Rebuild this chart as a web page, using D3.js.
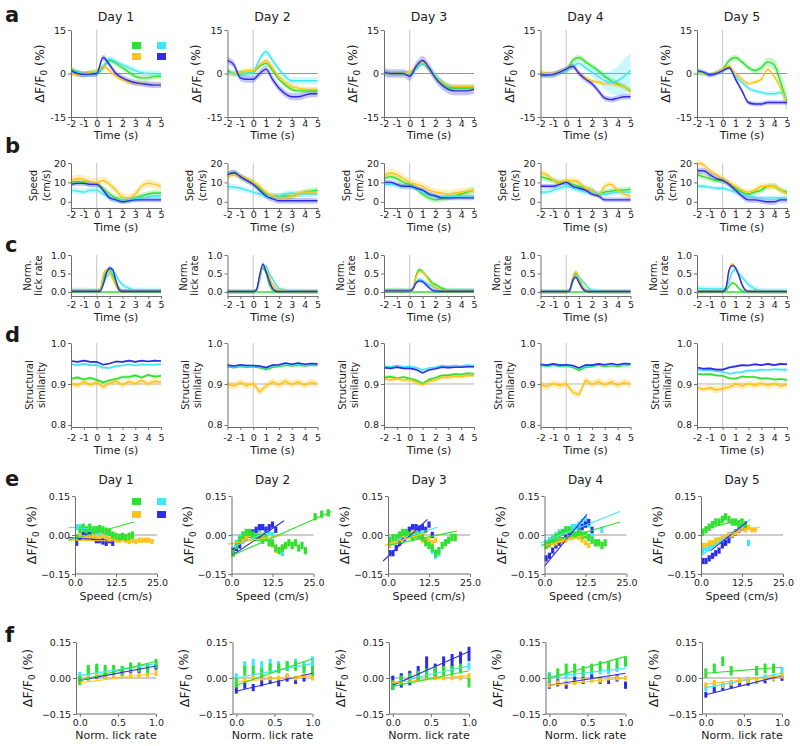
<!DOCTYPE html>
<html lang="en">
<head>
<meta charset="UTF-8">
<title>dF/F0, speed, licking and similarity across days</title>
<script src="https://d3js.org/d3.v7.min.js"></script>
<style>
  body { margin: 0; background: #fff; }
  svg text { font-family: "DejaVu Sans", sans-serif; fill: #1a1a1a; }
</style>
</head>
<body>
<svg></svg>
<script>
const width = 800, height = 746;
const days = ["Day 1", "Day 2", "Day 3", "Day 4", "Day 5"];
const seriesNames = ["green", "cyan", "yellow", "blue"];
const colors = { green: "#2fe02f", cyan: "#3fe6f4", yellow: "#ffc41a", blue: "#2d2de6" };

// time grids (s)
const timeGrid = [-2, -1.5, -1, -0.5, 0, 0.5, 1, 1.5, 2, 2.5, 3, 3.5, 4, 4.5, 5];
const lickTime = [-2, -1, 0, 0.25, 0.5, 0.75, 1, 1.25, 1.5, 1.75, 2, 2.5, 3, 4, 5];

// ---- a: dF/F0 (%) per day ----
const dffGreen = [
  [1.5, 0.5, -0.3, 0, 0, 2, 4.5, 3.5, 2, 0.5, -1, -1.5, -1.5, -1, -1],
  [1, 0, 0, 0, 0.5, 2.5, 3.5, 1, -2, -4, -5.5, -6, -6, -6, -6],
  [0.5, 0, 0, 0, 0, 2, 3.5, 1.5, -1.5, -3.5, -5, -5, -5, -5, -5],
  [0, -0.5, -0.5, 0.5, 1, 4.5, 5.5, 4, 2.5, 1, -1, -2.5, -3.5, -4.5, -6],
  [0.5, 0, -0.5, 0.3, 1.5, 4.5, 5.5, 4, 2, 1, 2, 4, 3, -3, -10]
];
const dffCyan = [
  [0.5, 0.3, -0.2, 0, 0.3, 2.5, 5, 4, 3, 2, 1, 0.3, 0, 0, -0.3],
  [0.5, 0, 0, 0, 0.5, 5, 7.5, 4.5, 1.5, -1, -2.5, -2.5, -2.5, -2.5, -2.5],
  [0.5, 0, 0, 0, 0, 1.5, 3.5, 2, -0.5, -2.5, -4, -4.5, -4.5, -4.5, -4.5],
  [-0.5, -0.5, -0.3, 0.5, 1, 2.5, 3.5, 2, 0.5, -1, -2.5, -3, -2.5, -1, 1],
  [0, 0, -0.5, 0, 1, 2.5, -1, -3, -5, -6, -6.5, -7, -7, -6.5, -9]
];
const dffYellow = [
  [0, -0.5, -0.5, 0.5, 0.8, 2.5, 1, -1, -2, -3, -3.2, -3.5, -3.5, -3.5, -3.5],
  [0, 0, 0.5, 1, 1, 3, 4.5, 2, -1, -3, -4.5, -5, -5.5, -5.5, -5.5],
  [0.5, 0, 0, 0, 0.5, 2.5, 4, 2, -1, -3, -4, -4.5, -4.5, -4.5, -4.5],
  [0.5, 0, 0, 0.5, 1.5, 2.5, 0, -1.5, -2.5, -3, -3.5, -3.5, -4, -4.5, -6.5],
  [0, 0, -0.5, 0.3, 1.5, 2.5, 0, -2, -3.5, -3, -2, 1.5, -1, -5, -10.5]
];
const dffBlue = [
  [1, 0, -0.3, -0.2, 0, 5.5, 3, 0, -1.5, -2.5, -3.2, -3.5, -3.8, -4, -4],
  [4.5, 3, -1.5, -2, -2, 0, 1.5, -2, -5, -7, -8, -8, -7.5, -7, -7],
  [0.5, 0, 0, 0, -1, 2.5, 4.5, 2, -1.5, -4, -5.5, -6, -6, -6, -5.5],
  [-0.5, -0.5, -0.3, 0.5, 1.5, 2.5, 0, -2, -3.5, -6, -8.5, -9, -8.5, -8, -8],
  [1, 0.5, -0.5, 0, 1, 2, -2, -6, -10, -10.5, -10.5, -10, -10, -10, -10]
];
const dffSem = [
  [1, 1, 0.8, 1],
  [0.8, 1.2, 1, 1.2],
  [0.8, 0.8, 0.8, 1.5],
  [1, [0.5, 0.5, 0.5, 0.5, 0.8, 1, 1, 1, 1.5, 2, 3, 4, 5, 6, 6], 0.8, 1],
  [[0.5, 0.5, 0.5, 0.5, 0.8, 1, 1, 1, 1, 1, 1.2, 1.5, 2, 3, 3.5], 0.8, 0.8, 0.8]
];

// ---- b: speed (cm/s) ----
const spdGreen = [
  [10, 10.5, 10, 9, 9, 7, 4, 2, 1, 1, 2, 3, 4, 4.5, 4.5],
  [14, 15, 13, 11, 10, 7, 4, 3, 3, 3, 3, 4, 5, 5.5, 6],
  [12, 13, 12, 10, 9, 7, 4, 2, 1, 1.5, 2, 3, 4, 5, 6],
  [13, 12, 11, 10, 10, 9, 8, 7, 6, 4, 5, 5.5, 6, 6, 6.5],
  [14, 13, 12, 11, 11, 9, 7, 5, 4, 5, 6, 8, 8, 6, 5]
];
const spdCyan = [
  [6, 5.5, 5, 6, 6, 4, 2, 1, 1, 1, 1.5, 2, 2.5, 3, 3],
  [8, 7.5, 7, 6, 5, 4, 3, 3, 3, 4, 4.5, 4, 4, 4, 4],
  [9, 9, 8.5, 8, 8, 7, 5, 4, 3, 2.5, 2.5, 3, 3, 3, 3],
  [5, 5, 6, 7, 8, 7, 6, 5, 5, 4, 4, 4.5, 5, 5, 5],
  [8, 8, 7.5, 7, 7, 6, 5, 4, 3, 2.5, 2, 2, 2, 2, 2]
];
const spdYellow = [
  [11, 12, 11.5, 10.5, 10, 11, 9, 6, 2.5, 2, 4, 8, 9.5, 9, 8],
  [13, 14, 13, 12, 10, 8, 5, 3, 2, 2, 3, 4, 5, 5, 5],
  [13, 15, 14, 12, 10, 9, 8, 6, 5, 4.5, 4, 4.5, 5, 5.5, 6],
  [15, 14, 11, 10, 11, 11, 10, 7, 6, 3, 8, 9, 6, 4, 3],
  [20, 19, 16, 14, 12, 10, 8, 6, 5, 6, 8, 8, 8, 6, 4]
];
const spdBlue = [
  [9, 9.5, 9.5, 9, 9, 6, 2, 1, 0, 0.5, 1, 1, 1, 1, 1],
  [14, 15, 13, 11, 9, 6, 3, 1.5, 0.5, 0.5, 0.5, 0.5, 0.5, 0.5, 0.5],
  [10, 10, 9, 8, 8, 7, 6, 4, 3, 2, 2, 2, 2, 2, 2],
  [8, 8, 8, 9, 10, 8, 7, 6, 4, 3, 1, 1, 1, 1, 1],
  [16, 16, 14, 12, 11, 9, 6, 3, 1, 1, 0.5, 0, 0, 1, 1]
];
const spdSem = [
  [1.5, 1.5, 2, 1.2], [1.5, 1.5, 1.5, 1.5], [1.5, 1.5, 2, 1.2], [1.5, 1.5, 1.5, 1.2], [1.5, 1.2, 1.5, 1.5]
];

// ---- c: normalised lick rate ----
const lickGreen = [
  [0.02, 0.02, 0.02, 0.05, 0.35, 0.55, 0.6, 0.45, 0.25, 0.1, 0.02, 0.02, 0.02, 0.02, 0.02],
  [0.01, 0.01, 0.01, 0.05, 0.4, 0.65, 0.5, 0.2, 0.05, 0.02, 0.01, 0.01, 0.01, 0.01, 0.01],
  [0.04, 0.05, 0.04, 0.1, 0.45, 0.6, 0.55, 0.45, 0.35, 0.25, 0.2, 0.1, 0.05, 0.04, 0.04],
  [0.01, 0.01, 0.01, 0.05, 0.35, 0.5, 0.35, 0.15, 0.05, 0.02, 0.01, 0.01, 0.01, 0.01, 0.01],
  [0.01, 0.01, 0.01, 0.03, 0.15, 0.25, 0.2, 0.1, 0.03, 0.01, 0.01, 0.01, 0.01, 0.01, 0.01]
];
const lickCyan = [
  [0.05, 0.05, 0.03, 0.03, 0.2, 0.4, 0.5, 0.55, 0.45, 0.3, 0.2, 0.1, 0.05, 0.05, 0.05],
  [0.02, 0.02, 0.02, 0.03, 0.3, 0.7, 0.7, 0.5, 0.35, 0.2, 0.1, 0.05, 0.03, 0.02, 0.02],
  [0.05, 0.05, 0.05, 0.1, 0.25, 0.35, 0.3, 0.25, 0.2, 0.15, 0.1, 0.05, 0.05, 0.05, 0.05],
  [0.02, 0.02, 0.02, 0.03, 0.25, 0.45, 0.4, 0.3, 0.2, 0.1, 0.05, 0.03, 0.02, 0.02, 0.02],
  [0.1, 0.08, 0.08, 0.1, 0.3, 0.55, 0.6, 0.5, 0.4, 0.3, 0.2, 0.08, 0.03, 0.02, 0.02]
];
const lickYellow = [
  [0.02, 0.03, 0.02, 0.05, 0.45, 0.6, 0.5, 0.35, 0.15, 0.05, 0.02, 0.02, 0.02, 0.02, 0.02],
  [0.01, 0.01, 0.01, 0.05, 0.4, 0.7, 0.6, 0.4, 0.2, 0.1, 0.05, 0.02, 0.01, 0.01, 0.01],
  [0.03, 0.04, 0.03, 0.1, 0.4, 0.55, 0.55, 0.45, 0.3, 0.2, 0.12, 0.05, 0.03, 0.03, 0.03],
  [0.01, 0.01, 0.01, 0.05, 0.4, 0.55, 0.4, 0.2, 0.05, 0.02, 0.01, 0.01, 0.01, 0.01, 0.01],
  [0.01, 0.01, 0.01, 0.1, 0.55, 0.75, 0.65, 0.45, 0.2, 0.05, 0.01, 0.01, 0.01, 0.01, 0.01]
];
const lickBlue = [
  [0.02, 0.02, 0.02, 0.02, 0.2, 0.5, 0.65, 0.6, 0.3, 0.05, 0.02, 0.02, 0.02, 0.02, 0.02],
  [0.01, 0.01, 0.01, 0.05, 0.45, 0.75, 0.55, 0.3, 0.1, 0.02, 0.01, 0.01, 0.01, 0.01, 0.01],
  [0.03, 0.03, 0.03, 0.08, 0.25, 0.3, 0.28, 0.2, 0.12, 0.05, 0.03, 0.02, 0.02, 0.02, 0.02],
  [0.01, 0.01, 0.01, 0.03, 0.3, 0.4, 0.25, 0.1, 0.03, 0.01, 0.01, 0.01, 0.01, 0.01, 0.01],
  [0.01, 0.01, 0.01, 0.1, 0.6, 0.72, 0.65, 0.45, 0.2, 0.05, 0.01, 0.01, 0.01, 0.01, 0.01]
];
const lickSem = [
  [0.06, 0.07, 0.06, 0.05], [0.05, 0.06, 0.06, 0.05], [0.06, 0.05, 0.05, 0.05], [0.05, 0.06, 0.05, 0.05], [0.04, 0.08, 0.05, 0.05]
];

// ---- d: structural similarity ----
const ssimGreen = [
  [0.912, 0.916, 0.911, 0.915, 0.910, 0.904, 0.909, 0.912, 0.917, 0.917, 0.921, 0.916, 0.922, 0.918, 0.920],
  [0.942, 0.940, 0.943, 0.941, 0.942, 0.940, 0.935, 0.941, 0.943, 0.946, 0.944, 0.946, 0.944, 0.946, 0.945],
  [0.916, 0.918, 0.914, 0.917, 0.913, 0.909, 0.901, 0.911, 0.915, 0.921, 0.921, 0.924, 0.923, 0.926, 0.925],
  [0.945, 0.943, 0.946, 0.943, 0.944, 0.941, 0.933, 0.941, 0.942, 0.946, 0.943, 0.945, 0.943, 0.946, 0.945],
  [0.925, 0.923, 0.924, 0.921, 0.920, 0.914, 0.913, 0.918, 0.917, 0.917, 0.913, 0.914, 0.911, 0.912, 0.910]
];
const ssimCyan = [
  [0.948, 0.946, 0.949, 0.946, 0.946, 0.940, 0.939, 0.944, 0.945, 0.948, 0.945, 0.948, 0.947, 0.947, 0.948],
  [0.944, 0.942, 0.945, 0.943, 0.944, 0.943, 0.938, 0.944, 0.945, 0.948, 0.946, 0.948, 0.946, 0.948, 0.947],
  [0.944, 0.942, 0.945, 0.942, 0.943, 0.940, 0.934, 0.939, 0.941, 0.945, 0.943, 0.945, 0.944, 0.946, 0.945],
  [0.946, 0.944, 0.947, 0.944, 0.945, 0.943, 0.938, 0.944, 0.944, 0.947, 0.945, 0.947, 0.946, 0.947, 0.946],
  [0.935, 0.933, 0.934, 0.931, 0.930, 0.925, 0.928, 0.929, 0.933, 0.932, 0.935, 0.934, 0.936, 0.935, 0.935]
];
const ssimYellow = [
  [0.902, 0.896, 0.906, 0.898, 0.904, 0.893, 0.902, 0.907, 0.898, 0.906, 0.901, 0.909, 0.900, 0.907, 0.904],
  [0.900, 0.895, 0.904, 0.896, 0.901, 0.881, 0.895, 0.905, 0.898, 0.907, 0.899, 0.905, 0.897, 0.904, 0.900],
  [0.913, 0.910, 0.913, 0.909, 0.911, 0.904, 0.898, 0.906, 0.910, 0.916, 0.916, 0.919, 0.918, 0.921, 0.920],
  [0.898, 0.894, 0.901, 0.896, 0.901, 0.880, 0.874, 0.909, 0.899, 0.906, 0.898, 0.905, 0.897, 0.904, 0.899],
  [0.891, 0.887, 0.891, 0.885, 0.889, 0.892, 0.900, 0.895, 0.901, 0.896, 0.902, 0.896, 0.901, 0.895, 0.899]
];
const ssimBlue = [
  [0.956, 0.954, 0.957, 0.954, 0.954, 0.947, 0.950, 0.955, 0.954, 0.957, 0.954, 0.957, 0.955, 0.957, 0.956],
  [0.946, 0.944, 0.947, 0.945, 0.945, 0.944, 0.940, 0.946, 0.947, 0.951, 0.948, 0.951, 0.948, 0.950, 0.949],
  [0.940, 0.938, 0.941, 0.938, 0.938, 0.935, 0.927, 0.934, 0.937, 0.941, 0.940, 0.941, 0.941, 0.942, 0.942],
  [0.948, 0.946, 0.949, 0.946, 0.947, 0.945, 0.939, 0.946, 0.946, 0.949, 0.947, 0.950, 0.947, 0.950, 0.949],
  [0.940, 0.937, 0.938, 0.935, 0.935, 0.940, 0.943, 0.946, 0.945, 0.948, 0.946, 0.949, 0.946, 0.949, 0.948]
];
const ssimSem = [
  [0.004, 0.003, 0.008, 0.002], [0.002, 0.002, 0.009, 0.002], [0.003, 0.002, 0.005, 0.002], [0.002, 0.002, 0.009, 0.002], [0.003, 0.003, 0.008, 0.003]
];

// ---- e: dF/F0 vs speed, bins of 1 cm/s (bin i centred on i + 0.5) ----
const eGreen = [
  [-0.01, 0.02, 0.03, 0.02, 0.03, 0.02, 0.02, 0.025, 0.02, 0.015, 0.01, 0.0, -0.005, -0.01, -0.005, -0.01, -0.005, 0.0],
  [-0.07, -0.04, -0.02, 0.0, 0.01, 0.01, 0.0, -0.01, -0.01, -0.02, -0.01, -0.03, -0.03, -0.05, -0.06, -0.05, -0.04, -0.03, -0.04, -0.03, -0.05, -0.04, -0.06, null, null, 0.07, null, 0.08, null, 0.085],
  [-0.02, -0.01, -0.01, 0.0, 0.01, 0.01, 0.0, -0.01, 0.0, 0.0, -0.01, -0.03, -0.04, -0.05, -0.07, -0.06, -0.04, -0.03, -0.02, -0.01, -0.01],
  [-0.04, -0.03, -0.02, -0.01, 0.0, 0.01, 0.02, 0.02, 0.01, 0.0, 0.01, 0.0, 0.0, -0.01, -0.02, -0.03, -0.03, -0.04, -0.03],
  [0.01, 0.02, 0.03, 0.04, 0.05, 0.05, 0.06, 0.07, 0.06, 0.05, 0.05, 0.04, 0.05, 0.04]
];
const eCyan = [
  [0.03, 0.03, 0.02, 0.02, 0.01, 0.01, 0.015, 0.01, 0.0, 0.0],
  [null, -0.03, -0.01, 0.0, 0.01, 0.01, 0.0, 0.01, 0.02, 0.03, 0.02, 0.01, 0.0, null, null, -0.07],
  [null, null, null, 0.0, 0.01, 0.01, 0.02, 0.02, 0.03, 0.02, 0.0, -0.02, -0.04, -0.06, -0.08, -0.07],
  [-0.03, -0.02, -0.01, 0.0, 0.01, 0.01, 0.02, 0.02, 0.03, 0.03, 0.04, 0.05, 0.06, 0.04, 0.0, null, null, 0.02],
  [-0.06, -0.05, -0.05, -0.04, -0.03, -0.02, -0.02, -0.01, 0.0, 0.0, 0.01, 0.02, 0.03, 0.04, -0.03]
];
const eYellow = [
  [null, -0.005, -0.01, -0.01, -0.01, -0.005, -0.01, -0.01, 0.0, -0.01, -0.015, -0.01, -0.02, -0.02, -0.015, -0.02, -0.025, -0.02, -0.025, -0.02, -0.02, -0.02, -0.02, -0.025],
  [null, null, -0.02, -0.02, -0.01, 0.0, -0.01, -0.01, 0.0, 0.0, -0.01, -0.03, -0.04, -0.06, -0.06, -0.05, -0.04],
  [-0.04, -0.03, -0.02, -0.01, 0.0, 0.0, 0.0, 0.01, 0.0, -0.01, -0.02, -0.02, -0.02, -0.03, -0.02],
  [null, -0.04, -0.03, -0.03, -0.02, -0.02, -0.02, -0.01, -0.01, 0.0, -0.01, -0.02, -0.03, -0.04],
  [-0.04, -0.04, -0.03, -0.03, -0.02, -0.02, -0.01, -0.01, 0.0, 0.0, 0.01, 0.02, 0.03, 0.02, 0.03, 0.02, 0.02]
];
const eBlue = [
  [-0.03, -0.01, 0.0, 0.01, 0.0, -0.01, -0.02, -0.02, -0.025, -0.03, -0.02, -0.03],
  [-0.06, -0.05, -0.04, -0.02, -0.01, 0.0, 0.01, 0.02, 0.03, 0.03, 0.02, 0.03, 0.04, 0.02],
  [-0.07, -0.07, -0.05, -0.03, -0.01, 0.0, 0.02, 0.03, 0.03, 0.025, 0.03, 0.02, 0.04, 0.0],
  [-0.09, -0.08, -0.06, -0.04, -0.03, -0.02, -0.01, 0.0, 0.01, 0.0, 0.02, 0.03, 0.04, 0.05, 0.02],
  [-0.1, -0.1, -0.09, -0.08, -0.07, -0.06, -0.04, -0.03, -0.02, 0.0, 0.01, 0.02, 0.03]
];
const eErr = [0.014, 0.012, 0.01, 0.012];
// regression lines: [speed0, dff0, speed1, dff1]
const eLineGreen = [[-2, -0.02, 18, 0.05], [0, -0.08, 30.5, 0.09], [0, -0.04, 21, 0.015], [-1, -0.04, 23, 0.05], [0, 0.02, 13, 0.06]];
const eLineCyan = [[-2, 0.03, 4, 0.025], [0, -0.05, 12, 0.02], [2, -0.02, 15, 0.03], [-1, -0.03, 23, 0.09], [0, -0.08, 15, 0.06]];
const eLineYellow = [[-2, -0.02, 24, -0.025], [-1, -0.035, 16, 0.0], [-1, -0.04, 12, 0.01], [0, -0.04, 13, 0.0], [7, 0.0, 18, 0.03]];
const eLineBlue = [[-2, -0.01, 10, -0.02], [0, -0.08, 16, 0.055], [-1.5, -0.1, 12, 0.06], [0, -0.12, 13, 0.08], [3, -0.06, 14, 0.05]];

// ---- f: dF/F0 vs normalised lick rate ----
const lickBins = [0, 0.111, 0.222, 0.333, 0.444, 0.556, 0.667, 0.778, 0.889, 1.0];
const fGreen = [
  [-0.01, 0.035, 0.04, 0.035, 0.035, 0.03, 0.045, 0.045, 0.04, 0.06],
  [-0.02, 0.03, 0.03, 0.02, 0.04, 0.04, 0.05, 0.05, 0.04, 0.03],
  [-0.03, -0.01, 0.0, 0.01, 0.02, 0.03, 0.03, 0.03, 0.04, -0.02],
  [0.0, 0.02, 0.04, 0.04, 0.03, 0.04, 0.05, 0.05, 0.06, 0.07],
  [0.02, 0.04, 0.07, 0.03, null, null, 0.03, 0.04, 0.04, null]
];
const fCyan = [
  [0.01, 0.03, 0.035, 0.03, 0.03, 0.035, 0.04, 0.04, 0.045, 0.05],
  [0.0, 0.05, 0.06, 0.05, 0.06, 0.05, 0.05, 0.06, 0.05, 0.07],
  [-0.01, 0.0, 0.01, 0.02, 0.02, 0.03, 0.03, 0.04, 0.04, 0.05],
  [0.01, 0.01, 0.01, 0.01, 0.02, 0.02, 0.03, 0.03, 0.04, 0.06],
  [-0.04, -0.04, -0.03, -0.03, -0.02, -0.01, -0.01, 0.0, 0.0, 0.03]
];
const fYellow = [
  [-0.015, 0.0, 0.01, 0.005, 0.01, 0.015, 0.01, 0.01, 0.015, 0.02],
  [-0.02, -0.01, 0.0, 0.0, 0.0, 0.0, 0.01, 0.0, 0.01, 0.0],
  [-0.02, -0.01, -0.01, 0.0, 0.0, 0.0, 0.0, 0.0, 0.0, 0.01],
  [-0.03, -0.02, -0.02, -0.02, -0.01, -0.01, -0.01, 0.0, 0.0, 0.0],
  [-0.03, -0.02, -0.03, -0.02, -0.01, -0.01, -0.01, 0.0, 0.0, 0.01]
];
const fBlue = [
  [-0.01, 0.0, 0.005, 0.01, 0.01, 0.02, 0.025, 0.03, 0.04, 0.045],
  [-0.05, -0.03, -0.04, -0.02, -0.01, -0.02, 0.0, -0.01, 0.0, 0.02],
  [-0.02, -0.01, 0.0, 0.02, 0.06, 0.03, 0.06, 0.07, 0.08, 0.1],
  [-0.03, -0.02, -0.03, -0.01, -0.01, 0.0, -0.01, -0.01, 0.0, -0.03],
  [-0.07, -0.05, -0.04, -0.03, -0.02, -0.02, -0.01, -0.01, 0.0, 0.0]
];
const fErr = [
  [0.02, 0.015, 0.012, 0.01], [0.02, 0.02, 0.01, 0.015], [0.02, 0.015, 0.01, 0.03], [0.02, 0.015, 0.01, 0.015], [0.02, 0.015, 0.012, 0.012]
];
// regression lines: [dff at rate 0, dff at rate 1]
const fLineGreen = [[-0.01, 0.07], [-0.03, 0.08], [-0.035, 0.03], [0.0, 0.09], [0.02, 0.045]];
const fLineCyan = [[0.01, 0.06], [0.0, 0.06], [-0.02, 0.05], [0.005, 0.04], [-0.04, 0.02]];
const fLineYellow = [[-0.02, 0.02], [-0.015, 0.01], [-0.02, 0.01], [-0.03, 0.0], [-0.025, 0.01]];
const fLineBlue = [[-0.01, 0.05], [-0.055, 0.02], [-0.03, 0.11], [-0.03, 0.02], [-0.07, 0.01]];

// ---------------- layout ----------------
const svg = d3.select("svg").attr("width", width).attr("height", height);
const colLeft = [71, 227.5, 384, 540.5, 697];
const plotW = 90;
const font = "DejaVu Sans, sans-serif";

function styleAxis(sel) {
  sel.select(".domain").attr("stroke", "#6e6e6e").attr("stroke-width", 1);
  sel.selectAll(".tick line").attr("stroke", "#6e6e6e");
  sel.selectAll("text").attr("font-size", 9.5).attr("font-family", font).attr("fill", "#111");
}

function dffLabel(x, y, size) {
  const t = svg.append("text")
    .attr("transform", `translate(${x},${y}) rotate(-90)`)
    .attr("text-anchor", "middle").attr("dy", "0.35em")
    .attr("font-size", size);
  t.append("tspan").text("ΔF/F");
  t.append("tspan").attr("font-size", size * 0.7).attr("dy", "0.3em").text("0");
  t.append("tspan").attr("dy", "-0.25em").text(" (%)");
}

function stackLabel(lines, x, y, size, gap) {
  lines.forEach((line, i) => {
    svg.append("text")
      .attr("transform", `translate(${x + i * gap},${y}) rotate(-90)`)
      .attr("text-anchor", "middle").attr("dy", "0.35em")
      .attr("font-size", size).text(line);
  });
}

const semAt = (s, i) => Array.isArray(s) ? s[i] : s;

const timeRows = [
  { top: 30, axisY: 117, domain: [-15, 15], ticks: [-15, 0, 15], fmt: d => String(d), xPad: 0,
    t: timeGrid, sets: [dffGreen, dffCyan, dffYellow, dffBlue], sem: dffSem,
    ref: { v: 0, color: colors.green, w: 1.2 }, curve: d3.curveMonotoneX, timeY: 139, lw: 1.4,
    label: { type: "dff", dx: -31 } },
  { top: 163, axisY: 208, domain: [-3.2, 20], ticks: [0, 10, 20], fmt: d => String(d), xPad: 0,
    t: timeGrid, sets: [spdGreen, spdCyan, spdYellow, spdBlue], sem: spdSem,
    ref: null, curve: d3.curveMonotoneX, timeY: 231, lw: 1.4,
    label: { type: "stack", lines: ["Speed", "(cm/s)"], dx: -38, gap: 13 } },
  { top: 255, axisY: 296, domain: [-0.11, 1], ticks: [0, 0.5, 1], fmt: d3.format(".1f"), xPad: 2,
    t: lickTime, sets: [lickGreen, lickCyan, lickYellow, lickBlue], sem: lickSem,
    ref: { v: 0, color: colors.green, w: 1.5 }, curve: d3.curveMonotoneX, timeY: 321, lw: 1.4,
    label: { type: "stack", lines: ["Norm.", "lick rate"], dx: -44, gap: 11 } },
  { top: 343, axisY: 427, domain: [0.795, 1.0], ticks: [0.8, 0.9, 1.0], fmt: d3.format(".1f"), xPad: 4,
    t: timeGrid, sets: [ssimGreen, ssimCyan, ssimYellow, ssimBlue], sem: ssimSem,
    ref: { v: 0.9, color: "#b5b5b5", w: 1 }, curve: d3.curveLinear, timeY: 454, lw: 1.6,
    label: { type: "stack", lines: ["Structural", "similarity"], dx: -42, gap: 12 } }
];

timeRows.forEach(row => {
  days.forEach((day, di) => {
    const left = colLeft[di];
    const x = d3.scaleLinear().domain([-2, 5]).range([left, left + plotW]);
    const y = d3.scaleLinear().domain(row.domain).range([row.axisY, row.top]);
    const g = svg.append("g");

    g.append("line")
      .attr("x1", x(0)).attr("x2", x(0)).attr("y1", row.top).attr("y2", row.axisY)
      .attr("stroke", "#bdbdbd").attr("stroke-width", 0.9);
    if (row.ref) {
      g.append("line")
        .attr("x1", x(-2)).attr("x2", x(5)).attr("y1", y(row.ref.v)).attr("y2", y(row.ref.v))
        .attr("stroke", row.ref.color).attr("stroke-width", row.ref.w);
    }

    const pts = row.sets.map((set, si) => row.t.map((t, i) => ({
      t, v: set[di][i], s: semAt(row.sem[di][si], i)
    })));

    const area = d3.area().curve(row.curve)
      .x(d => x(d.t)).y0(d => y(d.v - d.s)).y1(d => y(d.v + d.s));
    const line = d3.line().curve(row.curve).x(d => x(d.t)).y(d => y(d.v));

    g.selectAll(".band").data(pts).join("path")
      .attr("class", "band")
      .attr("d", area)
      .attr("fill", (d, i) => colors[seriesNames[i]])
      .attr("fill-opacity", 0.28);
    g.selectAll(".trace").data(pts).join("path")
      .attr("class", "trace")
      .attr("d", line)
      .attr("fill", "none")
      .attr("stroke", (d, i) => colors[seriesNames[i]])
      .attr("stroke-width", row.lw);

    g.append("g").attr("transform", `translate(0,${row.axisY})`)
      .call(d3.axisBottom(x).tickValues(d3.range(-2, 6)).tickFormat(d => String(d))
        .tickSize(3).tickPadding(row.xPad).tickSizeOuter(0))
      .call(styleAxis);
    g.append("g").attr("transform", `translate(${left},0)`)
      .call(d3.axisLeft(y).tickValues(row.ticks).tickFormat(row.fmt)
        .tickSize(3).tickPadding(2).tickSizeOuter(0))
      .call(styleAxis);

    svg.append("text")
      .attr("x", left + plotW / 2).attr("y", row.timeY)
      .attr("text-anchor", "middle").attr("font-size", 11).text("Time (s)");

    const cy = (row.top + row.axisY) / 2;
    if (row.label.type === "dff") dffLabel(left + row.label.dx, cy, 12.5);
    else stackLabel(row.label.lines, left + row.label.dx, cy, 10, row.label.gap);
  });
});

// day titles row a
days.forEach((day, di) => {
  svg.append("text").attr("x", colLeft[di] + plotW / 2).attr("y", 21)
    .attr("text-anchor", "middle").attr("font-size", 12.5).text(day);
});

// ---------------- e and f ----------------
const scatterRows = [
  { top: 496, bottom: 574, dx: 4, w: 82, xDomain: [0, 25], xTicks: [0, 12.5, 25], xPad: 2,
    data: [eGreen, eCyan, eYellow, eBlue], err: d => eErr,
    xOf: i => i + 0.5, barW: 3.2,
    lines: [eLineGreen, eLineCyan, eLineYellow, eLineBlue], lineKind: "e",
    xTitle: "Speed (cm/s)", xTitleY: 600, labelX: -43, title: true },
  { top: 642, bottom: 714, dx: 5, w: 80, xDomain: [-0.05, 1], xTicks: [0, 0.5, 1], xPad: 2,
    data: [fGreen, fCyan, fYellow, fBlue], err: di => fErr[di],
    xOf: i => lickBins[i], barW: 3,
    lines: [fLineGreen, fLineCyan, fLineYellow, fLineBlue], lineKind: "f",
    xTitle: "Norm. lick rate", xTitleY: 739, labelX: -48, title: false }
];
const drawOrder = [1, 3, 2, 0]; // cyan, blue, yellow, green on top

scatterRows.forEach(row => {
  days.forEach((day, di) => {
    const left = colLeft[di] + row.dx;
    const x = d3.scaleLinear().domain(row.xDomain).range([left, left + row.w]);
    const y = d3.scaleLinear().domain([-0.15, 0.15]).range([row.bottom, row.top]);
    const g = svg.append("g");

    g.append("line")
      .attr("x1", left).attr("x2", x(row.xTicks[2])).attr("y1", y(0)).attr("y2", y(0))
      .attr("stroke", "#9a9a9a").attr("stroke-width", 1);

    const errs = row.err(di);
    drawOrder.forEach(si => {
      const vals = row.data[si][di];
      const pts = vals.map((v, i) => ({ x: row.xOf(i), v })).filter(d => d.v !== null);
      const e = errs[si];
      g.selectAll(null).data(pts).join("rect")
        .attr("x", d => x(d.x) - row.barW / 2)
        .attr("width", row.barW)
        .attr("y", d => y(d.v + e))
        .attr("height", d => y(d.v - e) - y(d.v + e))
        .attr("fill", colors[seriesNames[si]]);
    });
    drawOrder.forEach(si => {
      const L = row.lines[si][di];
      if (!L) return;
      const seg = row.lineKind === "e" ? [[L[0], L[1]], [L[2], L[3]]] : [[0, L[0]], [1, L[1]]];
      g.append("line")
        .attr("x1", x(seg[0][0])).attr("y1", y(seg[0][1]))
        .attr("x2", x(seg[1][0])).attr("y2", y(seg[1][1]))
        .attr("stroke", colors[seriesNames[si]]).attr("stroke-width", 1.1);
    });

    g.append("g").attr("transform", `translate(0,${row.bottom})`)
      .call(d3.axisBottom(x).tickValues(row.xTicks).tickFormat(d3.format(".1f"))
        .tickSize(3).tickPadding(row.xPad).tickSizeOuter(0))
      .call(styleAxis)
      .call(a => a.select(".domain").remove());
    g.append("line").attr("x1", left).attr("x2", x(row.xTicks[2]))
      .attr("y1", row.bottom).attr("y2", row.bottom).attr("stroke", "#6e6e6e");
    g.append("g").attr("transform", `translate(${left},0)`)
      .call(d3.axisLeft(y).tickValues([-0.15, 0, 0.15]).tickFormat(d3.format(".2f"))
        .tickSize(3).tickPadding(2).tickSizeOuter(0))
      .call(styleAxis);

    svg.append("text").attr("x", (left + x(row.xTicks[2])) / 2).attr("y", row.xTitleY)
      .attr("text-anchor", "middle").attr("font-size", 11).text(row.xTitle);
    dffLabel(left + row.labelX, (row.top + row.bottom) / 2, 12.5);
    if (row.title) {
      svg.append("text").attr("x", (left + x(row.xTicks[2])) / 2).attr("y", 484)
        .attr("text-anchor", "middle").attr("font-size", 12).text(day);
    }
  });
});

// legends (first column of rows a and e)
[[42, 53], [498, 511]].forEach(([y1, y2]) => {
  const lx = [colLeft[0] + 61, colLeft[0] + 86];
  const spots = [[lx[0], y1], [lx[1], y1], [lx[0], y2], [lx[1], y2]];
  seriesNames.forEach((s, i) => {
    svg.append("rect").attr("x", spots[i][0]).attr("y", spots[i][1])
      .attr("width", 9).attr("height", 7).attr("fill", colors[s]);
  });
});

// panel letters
const letters = ["a", "b", "c", "d", "e", "f"];
const letterY = [22, 153, 252, 342, 486, 642];
letters.forEach((l, i) => {
  svg.append("text").attr("x", 5).attr("y", letterY[i])
    .attr("font-family", "Liberation Sans, Arial, sans-serif")
    .attr("font-weight", "bold").attr("font-size", 21).text(l);
});
</script>
</body>
</html>
